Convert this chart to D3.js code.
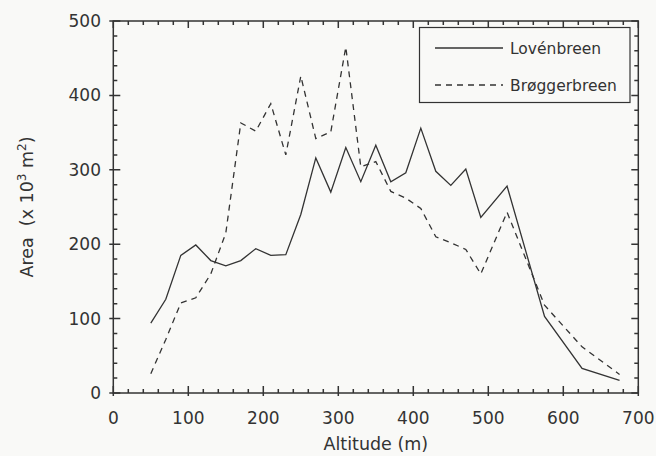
<!DOCTYPE html>
<html><head><meta charset="utf-8">
<script src="https://cdn.jsdelivr.net/npm/d3@7"></script>
<style>
html,body{margin:0;padding:0;background:#f9f9f7;}
svg{display:block;}
text{font-family:"DejaVu Sans",Verdana,sans-serif;fill:#333;}
</style></head>
<body>
<svg id="chart" width="656" height="456"></svg>
<script>
const altitude = [50,70,90,110,130,150,170,190,210,230,250,270,290,310,330,350,370,390,410,430,450,470,490,525,575,625,675];
const lovenbreen = [94,126,185,199,178,171,178,194,185,186,240,316,270,330,284,333,284,296,356,298,279,301,236,278,103,33,17];
const broggerbreen = [26,72,121,128,160,215,363,352,389,320,426,342,351,465,304,311,271,262,248,210,202,193,160,243,118,62,25];
const seriesNames = ["Lovénbreen","Brøggerbreen"];
const xTicks = [0,100,200,300,400,500,600,700];
const yTicks = [0,100,200,300,400,500];

const svg = d3.select("#chart");
const pL = 113.3, pR = 638.3, pT = 21, pB = 393;
const x = d3.scaleLinear().domain([0,700]).range([pL,pR]);
const y = d3.scaleLinear().domain([0,500]).range([pB,pT]);
const ink = "#333";

// frame
svg.append("rect").attr("x",pL).attr("y",pT).attr("width",pR-pL).attr("height",pB-pT)
  .attr("fill","none").attr("stroke",ink).attr("stroke-width",1.5);

const xMinor = d3.range(0,701,20).filter(v=>v%100!==0);
const yMinor = d3.range(0,501,20).filter(v=>v%100!==0);
let td = "";
xTicks.forEach(v=>{const p=x(v); td+=`M${p},${pB+3}V${pB-7}M${p},${pT}V${pT+7}`;});
xMinor.forEach(v=>{const p=x(v); td+=`M${p},${pB}V${pB-4}M${p},${pT}V${pT+4}`;});
yTicks.forEach(v=>{const p=y(v); td+=`M${pL-4},${p}H${pL+7}M${pR},${p}H${pR-7}`;});
yMinor.forEach(v=>{const p=y(v); td+=`M${pL},${p}H${pL+4}M${pR},${p}H${pR-4}`;});
svg.append("path").attr("d",td).attr("fill","none").attr("stroke",ink).attr("stroke-width",1.5);

// tick labels
svg.append("g").selectAll("text").data(xTicks).join("text")
  .attr("x",d=>x(d)).attr("y",424).attr("text-anchor","middle")
  .attr("font-size",17).text(d=>d);
svg.append("g").selectAll("text").data(yTicks).join("text")
  .attr("x",101).attr("y",d=>y(d)+6).attr("text-anchor","end")
  .attr("font-size",17).text(d=>d);

// axis titles
svg.append("text").attr("x",(pL+pR)/2).attr("y",450).attr("text-anchor","middle")
  .attr("font-size",17.5).text("Altitude (m)");
const yt = svg.append("text").attr("transform",`translate(33,${(pT+pB)/2}) rotate(-90)`)
  .attr("text-anchor","middle").attr("font-size",17.5).attr("xml:space","preserve");
yt.append("tspan").text("Area  (x 10");
yt.append("tspan").attr("dy",-7).attr("font-size",12).text("3");
yt.append("tspan").attr("dy",7).text(" m");
yt.append("tspan").attr("dy",-7).attr("font-size",12).text("2");
yt.append("tspan").attr("dy",7).text(")");

// lines
const line = d3.line().x((d,i)=>x(altitude[i])).y(d=>y(d));
svg.append("path").datum(lovenbreen).attr("d",line).attr("fill","none")
  .attr("stroke",ink).attr("stroke-width",1.3).attr("stroke-linejoin","miter");
svg.append("path").datum(broggerbreen).attr("d",line).attr("fill","none")
  .attr("stroke",ink).attr("stroke-width",1.3).attr("stroke-dasharray","6,5");

// legend
svg.append("rect").attr("x",419.5).attr("y",27.5).attr("width",210.5).attr("height",75)
  .attr("fill","#f9f9f7").attr("stroke",ink).attr("stroke-width",1.2);
const leg = [{name:seriesNames[0],dash:null,y:48},{name:seriesNames[1],dash:"6,5",y:85}];
leg.forEach(l=>{
  svg.append("line").attr("x1",435).attr("x2",503).attr("y1",l.y).attr("y2",l.y)
    .attr("stroke",ink).attr("stroke-width",1.3).attr("stroke-dasharray",l.dash);
  svg.append("text").attr("x",510).attr("y",l.y+5.5).attr("font-size",15.5).text(l.name);
});
</script>
</body></html>
